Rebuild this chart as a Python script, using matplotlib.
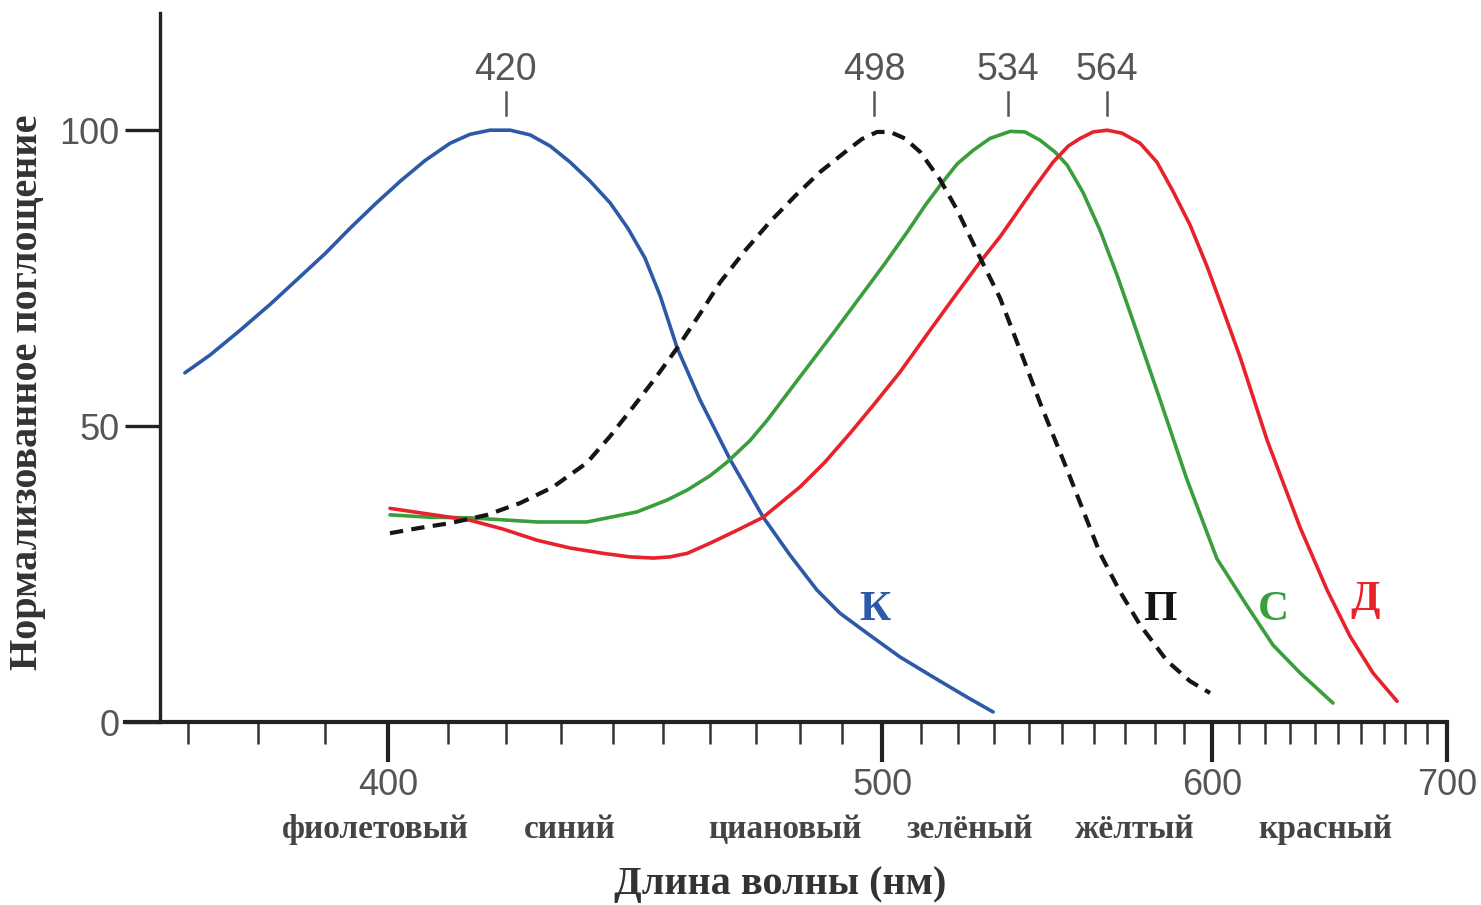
import numpy as np
import matplotlib.pyplot as plt
import matplotlib.transforms as mtransforms

# wavelength (nm) and normalised absorbance
k_wl = [369.6, 373.1, 377.4, 381.8, 386.2, 390.1, 393.9, 397.9, 402.0, 406.1, 410.3,
        413.7, 417.2, 420.8, 424.4, 428.1, 431.8, 435.6, 439.5, 443.0, 446.4, 449.5,
        453.0, 457.8, 464.3, 471.6, 477.7, 484.0, 489.5, 496.2, 504.5, 513.2, 522.4, 529.7]
k_abs = [59.0, 62.0, 66.2, 70.6, 75.2, 79.2, 83.4, 87.5, 91.4, 94.9, 97.8,
         99.3, 100.0, 100.0, 99.2, 97.3, 94.6, 91.4, 87.7, 83.4, 78.4, 72.0,
         63.2, 54.4, 44.3, 34.6, 28.2, 22.3, 18.4, 15.0, 11.0, 7.6, 4.2, 1.7]

p_wl = [400.3, 405.2, 410.3, 416.7, 422.6, 428.6, 435.0, 439.5, 444.0, 448.5, 453.0,
        457.8, 462.1, 467.6, 473.1, 478.9, 484.7, 491.3, 494.9, 498.7, 502.0, 505.8,
        509.8, 515.1, 519.7, 526.0, 531.7, 537.5, 543.4, 551.6, 561.9, 568.4, 575.0,
        584.2, 592.2, 599.4]
p_abs = [31.9, 32.8, 33.6, 35.0, 37.0, 39.7, 43.8, 48.3, 53.2, 58.1, 63.2,
         69.0, 74.3, 79.7, 84.5, 88.9, 92.9, 96.6, 98.5, 99.7, 99.7, 98.6,
         96.3, 91.6, 86.5, 78.5, 71.6, 62.8, 53.9, 42.6, 28.5, 22.0, 16.4,
         10.3, 6.9, 4.9]

s_wl = [400.3, 406.9, 413.7, 425.7, 435.0, 444.8, 450.9, 455.1, 459.9, 463.6, 468.7,
        472.5, 480.0, 487.9, 495.2, 500.7, 506.4, 511.1, 515.1, 519.7, 524.1, 528.8,
        534.6, 538.9, 543.4, 547.9, 551.6, 556.5, 561.9, 567.4, 572.7, 581.8, 591.1,
        601.9, 613.2, 623.2, 634.0, 647.7]
s_abs = [35.0, 34.6, 34.5, 33.8, 33.8, 35.5, 37.5, 39.2, 41.6, 43.9, 47.6,
         51.0, 58.3, 65.7, 72.5, 77.5, 82.8, 87.3, 90.7, 94.3, 96.6, 98.6,
         99.8, 99.7, 98.3, 96.3, 94.1, 89.5, 83.1, 75.5, 67.7, 54.4, 41.0,
         27.6, 19.6, 13.0, 8.3, 3.2]

d_wl = [400.3, 406.9, 413.7, 419.5, 425.7, 431.8, 438.1, 443.4, 448.1, 451.5, 455.1,
        459.9, 465.8, 471.6, 480.0, 485.9, 492.0, 498.2, 504.5, 512.4, 519.1, 526.0,
        531.7, 535.4, 541.3, 547.3, 551.9, 555.6, 559.7, 564.2, 569.0, 575.0, 580.7,
        586.2, 592.2, 598.3, 604.2, 610.5, 620.9, 634.0, 645.2, 655.0, 665.1, 676.1]
d_abs = [36.1, 35.1, 34.1, 32.6, 30.7, 29.4, 28.5, 27.9, 27.7, 27.9, 28.5,
         30.2, 32.4, 34.6, 39.7, 43.9, 48.8, 53.9, 59.1, 66.2, 72.0, 77.7,
         82.0, 85.1, 90.0, 94.6, 97.3, 98.6, 99.7, 100.0, 99.5, 97.8, 94.6,
         89.7, 84.0, 77.0, 69.6, 61.7, 47.6, 32.9, 22.3, 14.5, 8.3, 3.5]

peaks = [420, 498, 534, 564]
curve_names = ['К', 'П', 'С', 'Д']
name_wl = [498.2, 581.8, 623.2, 661.6]
name_abs = [18.9, 18.9, 18.9, 20.6]
colour_names = ['фиолетовый', 'синий', 'циановый', 'зелёный', 'жёлтый', 'красный']
colour_wl = [397.9, 431.8, 476.6, 523.2, 573.3, 644.3]
major_ticks = [400, 500, 600, 700]
minor_ticks = [370, 380, 390, 410, 420, 430, 440, 450, 460, 470, 480, 490,
               510, 520, 530, 540, 550, 560, 570, 580, 590,
               610, 620, 630, 640, 650, 660, 670, 680, 690]
y_ticks = [0, 50, 100]

blue = '#2d5aa8'
green = '#3a9e3c'
red = '#e8222b'
black = '#151515'
grey = '#555555'

# the x axis is linear in wavenumber (1/lambda)
def fwd(x):
    with np.errstate(divide='ignore', invalid='ignore'):
        return -1.0 / np.asarray(x, dtype=float)

def inv(u):
    with np.errstate(divide='ignore', invalid='ignore'):
        return -1.0 / np.asarray(u, dtype=float)

fig = plt.figure(figsize=(14.81, 9.05), dpi=100)
ax = fig.add_axes([125 / 1481, 183 / 905, 1322 / 1481, 709 / 905])
ax.set_xscale('function', functions=(fwd, inv))
ax.set_xlim(361.5, 700)
ax.set_ylim(0, 119.8)

ax.plot(k_wl, k_abs, color=blue, lw=2.6, solid_capstyle='round', solid_joinstyle='round')
ax.plot(s_wl, s_abs, color=green, lw=2.6, solid_capstyle='round', solid_joinstyle='round')
ax.plot(d_wl, d_abs, color=red, lw=2.6, solid_capstyle='round', solid_joinstyle='round')
ax.plot(p_wl, p_abs, color=black, lw=3.0, dashes=(3.2, 2.0))

for s in ['top', 'right']:
    ax.spines[s].set_visible(False)
ax.spines['left'].set_position(('data', 366.2))
ax.spines['left'].set_linewidth(2.4)
ax.spines['left'].set_color('#222222')
ax.spines['bottom'].set_linewidth(3.0)
ax.spines['bottom'].set_color('#222222')

ax.set_xticks(major_ticks)
ax.set_xticks(minor_ticks, minor=True)
ax.set_xticklabels([str(t) for t in major_ticks])
ax.set_yticks(y_ticks)
ax.set_yticklabels([str(t) for t in y_ticks])
ax.tick_params(axis='x', which='major', length=29, width=3, color='#222222', pad=4,
               labelsize=26, labelcolor=grey)
ax.tick_params(axis='x', which='minor', length=16, width=1.8, color='#333333')
ax.tick_params(axis='y', which='major', length=25, width=2.4, color='#222222', pad=4,
               labelsize=26, labelcolor=grey)
for lab in ax.get_xticklabels() + ax.get_yticklabels():
    lab.set_family('Liberation Sans')

# peak markers
for p in peaks:
    ax.plot([p, p], [102.6, 106.5], color=grey, lw=1.8, clip_on=False)
    ax.text(p, 110.1, str(p), ha='center', va='center', fontsize=27, color=grey,
            family='Liberation Sans')

# curve names
for name, wl, a, c in zip(curve_names, name_wl, name_abs, [blue, black, green, red]):
    ax.text(wl, a, name, ha='center', va='center', fontsize=31, fontweight='bold',
            color=c, family='Liberation Serif')

# colour names under the axis
trans = mtransforms.blended_transform_factory(ax.transData, ax.transAxes)
for name, wl in zip(colour_names, colour_wl):
    ax.text(wl, -0.152, name, transform=trans, ha='center', va='center', fontsize=24,
            fontweight='bold', color='#444444', family='Liberation Serif')

fig.text(780 / 1481, 1 - 884 / 905, 'Длина волны (нм)', ha='center', va='center',
         fontsize=29, fontweight='bold', color='#333333', family='Liberation Serif')
fig.text(28 / 1481, 1 - 392 / 905, 'Нормализованное поглощение', ha='center', va='center',
         rotation=90, fontsize=29, fontweight='bold', color='#333333', family='Liberation Serif')

fig.savefig('out.png', dpi=100, facecolor='white')
